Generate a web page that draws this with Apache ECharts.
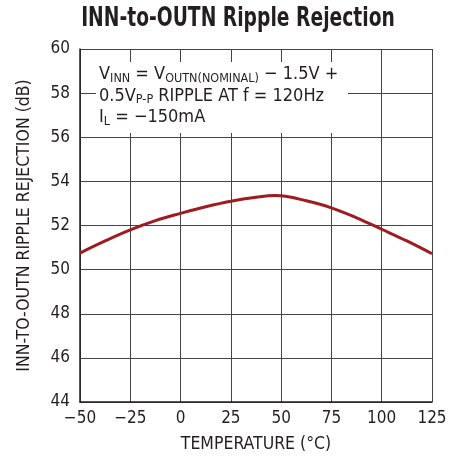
<!DOCTYPE html>
<html>
<head>
<meta charset="utf-8">
<script src="https://cdn.jsdelivr.net/npm/echarts@6/dist/echarts.min.js"></script>
<style>html,body{margin:0;padding:0;background:#fff}#c{width:458px;height:458px}</style>
</head>
<body>
<div id="c"></div>
<script>
// Ripple rejection vs. temperature
const temperatures = [-50, -37.5, -25, -12.5, 0, 12.5, 25, 37.5, 47, 50, 62.5, 75, 87.5, 100, 112.5, 125];
const rejectionDb = [50.75, 51.3, 51.8, 52.22, 52.55, 52.85, 53.1, 53.28, 53.36, 53.35, 53.12, 52.8, 52.35, 51.83, 51.3, 50.72];
const xTicks = [-50, -25, 0, 25, 50, 75, 100, 125];
const yTicks = [44, 46, 48, 50, 52, 54, 56, 58, 60];

const font = '"DejaVu Sans Condensed", "Liberation Sans", sans-serif';
const ink = '#231f20';
const chart = echarts.init(document.getElementById('c'));
chart.setOption({
  animation: false,
  grid: { left: 80, right: 26, top: 49, bottom: 54 },
  xAxis: {
    type: 'value', min: xTicks[0], max: xTicks[xTicks.length - 1], interval: 25,
    name: 'TEMPERATURE (°C)', nameLocation: 'middle', nameGap: 33,
    nameTextStyle: { fontFamily: font, fontSize: 17.5, color: ink },
    axisLine: { show: true, onZero: false, lineStyle: { color: ink, width: 1.5 } },
    axisTick: { show: false },
    axisLabel: { fontFamily: font, fontSize: 17, color: ink, margin: 8,
      formatter: v => (v < 0 ? '\u2212' + Math.abs(v) : String(v)) },
    splitLine: { show: true, lineStyle: { color: '#444', width: 1 } }
  },
  yAxis: {
    type: 'value', min: yTicks[0], max: yTicks[yTicks.length - 1], interval: 2,
    name: 'INN-TO-OUTN RIPPLE REJECTION (dB)', nameLocation: 'middle', nameGap: 47,
    nameTextStyle: { fontFamily: font, fontSize: 17.5, color: ink },
    axisLine: { show: true, onZero: false, lineStyle: { color: ink, width: 1.5 } },
    axisTick: { show: false },
    axisLabel: { fontFamily: font, fontSize: 17, color: ink, margin: 10 },
    splitLine: { show: true, lineStyle: { color: '#444', width: 1 } }
  },
  series: [{
    type: 'line', smooth: 0.4, symbol: 'none',
    data: temperatures.map((t, i) => [t, rejectionDb[i]]),
    lineStyle: { color: '#9e1b20', width: 3 }
  }],
  graphic: [
    // chart title, condensed bold
    { type: 'text', x: 238, y: 6, scaleX: 0.8, z: 20,
      style: { text: 'INN-to-OUTN Ripple Rejection', fontFamily: font, fontWeight: 'bold',
        fontSize: 26, fill: ink, align: 'center', verticalAlign: 'top' } },
    // test conditions note
    { type: 'rect', left: 96, top: 62, shape: { width: 252, height: 71 }, style: { fill: '#fff' }, z: 10 },
    { type: 'text', left: 99, top: 64, z: 11,
      style: {
        fontFamily: font, fontSize: 18, fill: ink, lineHeight: 21.5,
        text: '{n|V}{s|INN}{n| = V}{s|OUTN(NOMINAL)}{n| \u2212 1.5V +}\n{n|0.5V}{s|P-P}{n| RIPPLE AT f = 120Hz}\n{n|I}{s|L}{n| = \u2212150mA}',
        rich: {
          n: { fontFamily: font, fontSize: 18, fill: ink, lineHeight: 21.5 },
          s: { fontFamily: font, fontSize: 12.5, fill: ink, lineHeight: 21.5, padding: [7, 0, 0, 0] }
        }
      }
    }
  ]
});
</script>
</body>
</html>
